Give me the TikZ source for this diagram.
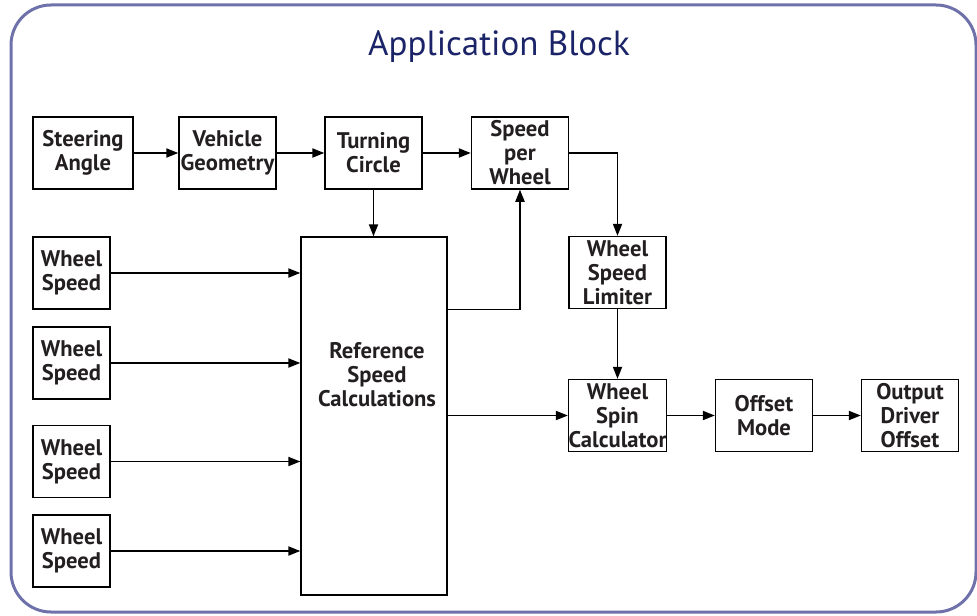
\documentclass[tikz,border=0pt]{standalone}
\usepackage{fontspec}
\setmainfont{PT Sans}
\usetikzlibrary{arrows.meta}
\definecolor{framec}{HTML}{6E71AA}
\definecolor{titlec}{HTML}{1B2468}
\definecolor{txtc}{HTML}{231F20}
\begin{document}
\begin{tikzpicture}[x=0.5pt,y=-0.5pt,
  blk/.style={draw=black, line width=0.75pt, inner sep=0pt, align=center,
    font=\fontsize{11.3}{12}\selectfont\bfseries, text=txtc,
    minimum height=36pt, minimum width=48.5pt},
  wsblk/.style={blk, minimum width=38.5pt},
  arr/.style={-{Triangle[length=6pt,width=4.6pt]}, line width=0.75pt}]
\useasboundingbox (0,0) rectangle (977,615);
\draw[framec, line width=1.5pt, rounded corners=20pt] (11,5) rectangle (976,612);
\node[font=\fontsize{17.5}{20}\selectfont, text=titlec, anchor=base] (title) at (499,55) {Application Block};
% top row
\node[blk, minimum width=50pt] (sa) at (83,153) {Steering\\Angle};
\node[blk] (vg) at (227.5,153) {Vehicle\\Geometry};
\node[blk] (tc) at (373.5,153) {Turning\\Circle};
\node[blk] (spw) at (520,153) {Speed\\per\\Wheel};
% wheel speeds
\node[wsblk] (ws1) at (71.5,273) {Wheel\\Speed};
\node[wsblk] (ws2) at (71.5,363) {Wheel\\Speed};
\node[wsblk] (ws3) at (71.5,461.5) {Wheel\\Speed};
\node[wsblk] (ws4) at (71.5,551) {Wheel\\Speed};
% reference speed
\node[blk, minimum width=73pt, minimum height=179pt] (rsc) at (374,416) {};
\node[font=\fontsize{11.3}{12}\selectfont\bfseries, text=txtc, align=center, inner sep=0pt] (rsct) at (377,375) {Reference\\Speed\\Calculations};
% right side
\node[blk] (lim) at (617.5,272.5) {Wheel\\Speed\\Limiter};
\node[blk] (wsc) at (617.5,415.5) {Wheel\\Spin\\Calculator};
\node[blk] (om) at (764,415.5) {Offset\\Mode};
\node[blk] (od) at (910,415.5) {Output\\Driver\\Offset};
% connectors
\draw[arr] (sa) -- (vg);
\draw[arr] (vg) -- (tc);
\draw[arr] (tc) -- (spw);
\draw[arr] (spw.east) -| (lim.north);
\draw[arr] (tc.south) -- (tc.south |- rsc.north);
\draw[arr] (rsc.east |- lim.south) -| (spw.south);
\draw[arr] (wsc.west -| rsc.east) -- (wsc.west);
\draw[arr] (lim) -- (wsc);
\draw[arr] (wsc) -- (om);
\draw[arr] (om) -- (od);
\draw[arr] (ws1.east) -- (ws1.east -| rsc.west);
\draw[arr] (ws2.east) -- (ws2.east -| rsc.west);
\draw[arr] (ws3.east) -- (ws3.east -| rsc.west);
\draw[arr] (ws4.east) -- (ws4.east -| rsc.west);
\end{tikzpicture}
\end{document}
